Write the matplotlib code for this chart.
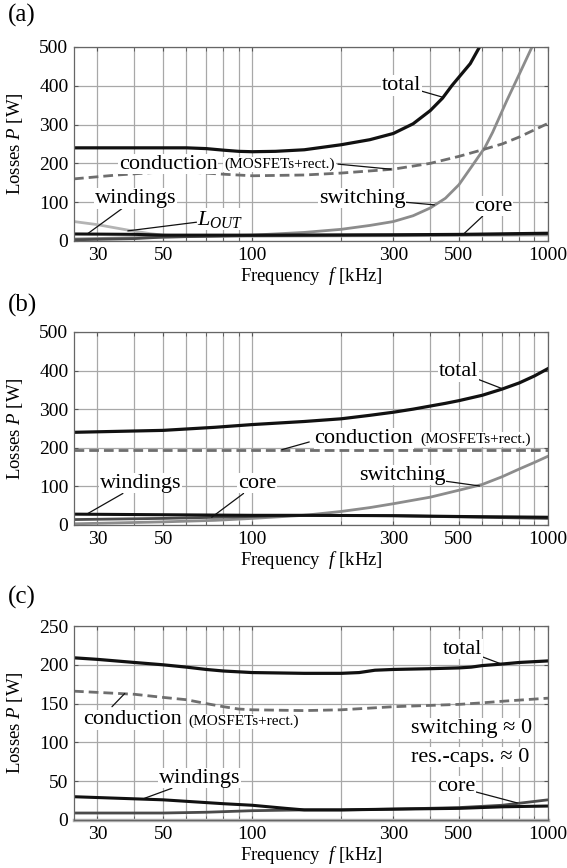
"""
Loss breakdown vs switching frequency, panels (a)-(c).
Saves: out.png
"""
import numpy as np
import matplotlib
matplotlib.use("Agg")
import matplotlib.pyplot as plt
from matplotlib.ticker import FixedLocator, NullFormatter

plt.rcParams["font.family"] = ["Liberation Serif", "DejaVu Serif"]
plt.rcParams["mathtext.fontset"] = "custom"
plt.rcParams["mathtext.rm"] = "Liberation Serif"
plt.rcParams["mathtext.it"] = "Liberation Serif:italic"

# ---- data (kHz, W) ----
# (a)
fa_tot = [25, 40, 60, 70, 80, 90, 100, 120, 150, 200, 250, 300, 350, 400, 440, 474, 510, 546, 587, 620]
pa_tot = [240, 240, 240, 238, 234, 231, 230, 231, 235, 248, 261, 277, 302, 336, 368, 401, 430, 457, 500, 540]
fa_con = [25, 35, 50, 60, 80, 100, 150, 200, 300, 400, 500, 600, 700, 800, 1000]
pa_con = [160, 170, 178, 178, 172, 168, 170, 175, 185, 200, 218, 235, 250, 268, 303]
fa_sw = [25, 50, 100, 150, 200, 250, 300, 350, 400, 450, 500, 550, 612, 650, 700, 726, 800, 883, 950]
pa_sw = [5, 10, 15, 22, 30, 40, 50, 65, 85, 110, 145, 190, 241, 280, 335, 362, 430, 500, 560]
fa_lout = [25, 30, 38, 45, 50, 60, 100, 200, 500, 1000]
pa_lout = [50, 42, 28, 19, 15, 13, 12, 13, 14, 15]
fa_core = [25, 40, 50, 100, 300, 500, 1000]
pa_core = [3, 6, 10, 14, 15, 16, 18]
fa_wnd = [25, 40, 50, 100, 300, 500, 1000]
pa_wnd = [18, 17, 15, 15, 16, 17, 20]

# (b)
fb_tot = [25, 50, 75, 100, 150, 200, 250, 300, 350, 400, 450, 500, 600, 700, 800, 900, 1000]
pb_tot = [240, 245, 253, 260, 268, 275, 284, 292, 300, 308, 315, 322, 336, 352, 368, 386, 405]
fb_con = [25, 1000]
pb_con = [195, 195]
fb_sw = [25, 50, 75, 100, 150, 200, 250, 300, 400, 500, 600, 700, 800, 900, 1000]
pb_sw = [3, 8, 12, 17, 25, 35, 45, 55, 72, 90, 105, 125, 145, 162, 178]
fb_wnd = [25, 100, 150, 300, 500, 1000]
pb_wnd = [28, 25, 25, 24, 22, 20]
fb_core = [25, 50, 100, 150, 300, 500, 1000]
pb_core = [14, 17, 22, 25, 24, 21, 17]

# (c)
fc_tot = [25, 30, 40, 50, 60, 70, 80, 100, 150, 200, 230, 260, 300, 400, 500, 550, 600, 700, 800, 1000]
pc_tot = [209, 207, 203, 200, 197, 194, 192, 190, 189, 189, 190, 193, 194, 195, 196, 197, 199, 201, 203, 205]
fc_con = [25, 40, 50, 60, 70, 80, 90, 100, 150, 200, 300, 500, 600, 700, 1000]
pc_con = [166, 162, 158, 155, 150, 146, 143, 142, 141, 142, 146, 149, 151, 153, 157]
fc_wnd = [25, 50, 80, 100, 130, 150, 200, 300, 500, 700, 1000]
pc_wnd = [30, 26, 21, 19, 15, 13, 13, 14, 15, 17, 18]
fc_core = [25, 50, 70, 100, 150, 200, 300, 500, 700, 1000]
pc_core = [9, 9, 10, 12, 13, 13, 14, 16, 19, 26]
fc_sw = [25, 1000]
pc_sw = [0, 0]

xticks = [30, 50, 100, 300, 500, 1000]
xminor = [40, 60, 70, 80, 90, 200, 400, 600, 700, 800, 900]

BLACK = "#111111"; DARK = "#4a4a4a"; GRAY = "#8c8c8c"; LIGHT = "#b4b4b4"; DASH = "#6e6e6e"
BOX = dict(facecolor="white", edgecolor="none", pad=0.5)
LEAD = dict(arrowstyle="-", color=BLACK, lw=0.9, shrinkA=0, shrinkB=0)


def style(ax, ymax, ystep):
    ax.set_xscale("log")
    ax.set_xlim(25, 1000); ax.set_ylim(0, ymax)
    ax.xaxis.set_major_locator(FixedLocator(xticks))
    ax.xaxis.set_minor_locator(FixedLocator(xminor))
    ax.xaxis.set_minor_formatter(NullFormatter())
    ax.set_xticklabels([str(t) for t in xticks])
    ax.set_yticks(np.arange(0, ymax + 1, ystep))
    ax.grid(True, which="both", axis="x", color="#a8a8a8", lw=0.9)
    ax.grid(True, which="major", axis="y", color="#a8a8a8", lw=0.9)
    ax.tick_params(which="both", direction="in", top=True, right=True,
                   labelsize=14, length=3, color="#555555", pad=4)
    for s in ax.spines.values():
        s.set_color("#666666"); s.set_linewidth(0.9)
    ax.set_xlabel("Frequency  $f$ [kHz]", fontsize=13.5, labelpad=1)
    ax.set_ylabel("Losses $P$ [W]", fontsize=13.5, labelpad=10)


def note(ax, txt, xy, xytext, ha="center", size=16):
    ax.annotate(txt, xy=xy, xytext=xytext, ha=ha, va="center", fontsize=size,
                bbox=BOX, arrowprops=LEAD, zorder=5)


fig = plt.figure(figsize=(5.67, 8.68), dpi=100)
L, W = 74 / 567, 474 / 567
axa = fig.add_axes([L, 0.7224, W, 0.2235])
axb = fig.add_axes([L, 0.3952, W, 0.2224])
axc = fig.add_axes([L, 0.0553, W, 0.2235])

# ---- (a) ----
ax = axa; style(ax, 500, 100)
ax.plot(fa_lout, pa_lout, color=LIGHT, lw=2)
ax.plot(fa_sw, pa_sw, color=GRAY, lw=2)
ax.plot(fa_core, pa_core, color=DARK, lw=2)
ax.plot(fa_wnd, pa_wnd, color=BLACK, lw=2.2)
ax.plot(fa_con, pa_con, color=DASH, lw=2, ls=(0, (3.5, 1.8)))
ax.plot(fa_tot, pa_tot, color=BLACK, lw=2.3)
note(ax, "total", (443, 370), (320, 401))
ax.annotate("", xy=(294, 185), xytext=(195, 198), arrowprops=LEAD, zorder=5)
ax.text(35.5, 198, "conduction", fontsize=16, va="center", bbox=BOX, zorder=6)
ax.text(80.5, 198, "(MOSFETs+rect.)", fontsize=11, va="center", bbox=BOX, zorder=6)
note(ax, "switching", (413, 93), (235, 110))
note(ax, "core", (517, 17), (654, 90))
note(ax, "windings", (27.6, 17), (40.4, 109))
note(ax, "$L_{OUT}$", (38, 26), (78, 56))

# ---- (b) ----
ax = axb; style(ax, 500, 100)
ax.plot(fb_sw, pb_sw, color=GRAY, lw=2)
ax.plot(fb_core, pb_core, color=DARK, lw=2)
ax.plot(fb_wnd, pb_wnd, color=BLACK, lw=2.2)
ax.plot(fb_con, pb_con, color=DASH, lw=2, ls=(0, (3.5, 1.8)))
ax.plot(fb_tot, pb_tot, color=BLACK, lw=2.3)
note(ax, "total", (695, 354), (498, 397))
ax.annotate("", xy=(126, 195), xytext=(156, 215), arrowprops=LEAD, zorder=5)
ax.text(238, 224, "conduction", fontsize=16, ha="center", va="center", bbox=BOX, zorder=6)
ax.text(369, 222, "(MOSFETs+rect.)", fontsize=11, va="center", bbox=BOX, zorder=6)
note(ax, "switching", (587, 101), (322, 129))
note(ax, "windings", (27.6, 28), (42, 108))
note(ax, "core", (73, 20), (104, 108))

# ---- (c) ----
ax = axc; style(ax, 250, 50)
ax.plot(fc_sw, pc_sw, color=LIGHT, lw=2.5, clip_on=False)
ax.plot(fc_core, pc_core, color=DARK, lw=2)
ax.plot(fc_wnd, pc_wnd, color=BLACK, lw=2.2)
ax.plot(fc_con, pc_con, color=DASH, lw=2, ls=(0, (3.5, 1.8)))
ax.plot(fc_tot, pc_tot, color=BLACK, lw=2.3)
note(ax, "total", (696, 201), (513, 220))
ax.annotate("", xy=(37.1, 163), xytext=(33.6, 146), arrowprops=LEAD, zorder=5)
ax.text(39.5, 129, "conduction", fontsize=16, ha="center", va="center", bbox=BOX, zorder=6)
ax.text(60.7, 127, "(MOSFETs+rect.)", fontsize=11, va="center", bbox=BOX, zorder=6)
ax.text(344, 118, "switching \u2248 0", fontsize=16, va="center", bbox=BOX, zorder=6)
ax.text(344, 81, "res.-caps. \u2248 0", fontsize=16, va="center", bbox=BOX, zorder=6)
note(ax, "windings", (43.3, 28), (66.5, 54))
note(ax, "core", (787, 22), (488, 43))

for lab, y in [("(a)", 15), ("(b)", 305), ("(c)", 597)]:
    fig.text(8 / 567, 1 - y / 868, lab, fontsize=18, va="center", ha="left")

fig.savefig("out.png", dpi=100)
